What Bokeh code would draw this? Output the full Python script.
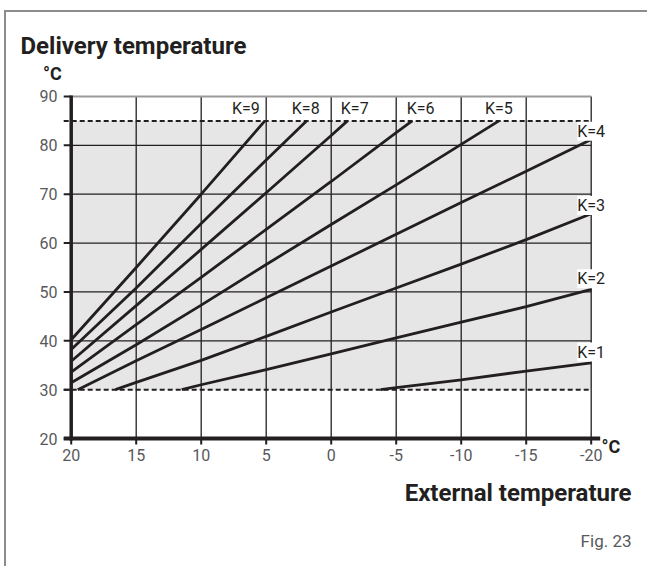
from bokeh.plotting import figure
from bokeh.models import Range1d, FixedTicker, Label
from bokeh.embed import file_html
from bokeh.resources import INLINE

# ---- data ----
ext_k1 = [-3.8, -5, -10, -15, -20]
flow_k1 = [30.0, 30.4, 32.0, 33.8, 35.5]
ext_k2 = [11.5, 10, 5, 0, -5, -10, -15, -20]
flow_k2 = [30.0, 31.0, 34.1, 37.3, 40.6, 43.8, 47.0, 50.5]
ext_k3 = [16.6, 15, 10, 5, 0, -5, -10, -15, -20]
flow_k3 = [30.0, 31.5, 36.0, 40.9, 45.9, 50.8, 55.7, 60.7, 66.0]
ext_k4 = [19.5, 15, 10, 5, 0, -5, -10, -15, -20]
flow_k4 = [30.0, 35.9, 42.3, 48.8, 55.3, 61.8, 68.3, 74.7, 81.2]
ext_k5 = [20, 15, 10, 5, 0, -5, -10, -12.9]
flow_k5 = [31.4, 39.2, 47.3, 55.6, 63.8, 71.9, 80.2, 85.0]
ext_k6 = [20, 15, 10, 5, 0, -5, -6.23]
flow_k6 = [33.6, 43.3, 53.0, 62.8, 72.6, 82.6, 85.0]
ext_k7 = [20, 15, 10, 5, 0, -1.25]
flow_k7 = [35.8, 47.2, 58.7, 70.3, 82.0, 85.0]
ext_k8 = [20, 15, 10, 5, 1.9]
flow_k8 = [38.2, 50.8, 64.0, 77.0, 85.0]
ext_k9 = [20, 15, 10, 5.1]
flow_k9 = [40.2, 55.0, 70.0, 85.0]

curves = [(ext_k1, flow_k1), (ext_k2, flow_k2), (ext_k3, flow_k3),
          (ext_k4, flow_k4), (ext_k5, flow_k5), (ext_k6, flow_k6),
          (ext_k7, flow_k7), (ext_k8, flow_k8), (ext_k9, flow_k9)]

min_flow = 30
max_flow = 85

x_ticks = [20, 15, 10, 5, 0, -5, -10, -15, -20]
x_tick_labels = ["20", "15", "10", "5", "0", "-5", "-10", "-15", "-20"]
y_ticks = [20, 30, 40, 50, 60, 70, 80, 90]
y_grid = [40, 50, 60, 70, 80]

top_labels = ["K=9", "K=8", "K=7", "K=6", "K=5"]
top_label_x = [6.57, 1.96, -1.81, -6.88, -12.9]
top_label_y = 87.5
right_labels = ["K=4", "K=3", "K=2", "K=1"]
right_label_x = -20.0
right_label_y = [82.9, 67.7, 52.7, 37.7]

title_text = "Delivery temperature"
x_title = "External temperature"
unit = "°C"
fig_text = "Fig. 23"

DARK = "#231f20"
GREY_TXT = "#58595b"
FONT = "Roboto"

# scale: 13 px per degree (x), 4.886 px per degree (y)
PX_X = 13.0
PX_Y = 4.886
X_START = 20 + (70.7 - 8) / PX_X
X_END = 20 - (647 - 70.7) / PX_X
Y_END = 20 + (438 - 14) / PX_Y
Y_START = 20 - (566 - 438) / PX_Y

p = figure(width=643, height=556,
           x_range=Range1d(X_START, X_END), y_range=Range1d(Y_START, Y_END),
           output_backend="svg", toolbar_location=None,
           min_border_left=2, min_border_right=2,
           min_border_top=2, min_border_bottom=2)
p.styles = {"margin-left": "4px", "margin-top": "10px",
            "border-top": "2px solid #8c8c8c", "border-left": "2px solid #8c8c8c"}
p.outline_line_color = None
p.xgrid.visible = False
p.ygrid.visible = False
p.background_fill_color = "white"
p.border_fill_color = "white"

# grey band between the flow limits
p.quad(left=[20], right=[-20], bottom=[min_flow], top=[max_flow],
       fill_color="#e6e6e6", line_color=None)

# grid lines
p.segment(x0=x_ticks, y0=[20] * len(x_ticks), x1=x_ticks, y1=[90] * len(x_ticks),
          line_color=DARK, line_width=1.3)
p.segment(x0=[20] * len(y_grid), y0=y_grid, x1=[-20] * len(y_grid), y1=y_grid,
          line_color=DARK, line_width=1.3)
p.segment(x0=[20], y0=[90], x1=[-20], y1=[90], line_color="#9a9a9a", line_width=2)

tick_dx = 7.5 / PX_X
tick_dy = 6 / PX_Y

# dashed limits
p.segment(x0=[20 + tick_dx] * 2, y0=[min_flow, max_flow], x1=[-20, -20],
          y1=[min_flow, max_flow], line_color=DARK, line_width=2, line_dash="5 3")

# axis lines and tick marks
p.segment(x0=[20 + tick_dx] * len(y_ticks), y0=y_ticks, x1=[20] * len(y_ticks), y1=y_ticks,
          line_color=DARK, line_width=2)
p.segment(x0=x_ticks, y0=[20] * len(x_ticks), x1=x_ticks, y1=[20 - tick_dy] * len(x_ticks),
          line_color=DARK, line_width=2)
p.segment(x0=[20], y0=[20 - 2 / PX_Y], x1=[20], y1=[90 + 1 / PX_Y],
          line_color=DARK, line_width=3.5)
p.segment(x0=[20 + tick_dx], y0=[20], x1=[-20 - 9 / PX_X], y1=[20],
          line_color=DARK, line_width=4)

for ex, fl in curves:
    p.line(ex, fl, line_color=DARK, line_width=2.8)

# axes: only the tick labels are shown
for ax in (p.xaxis[0], p.yaxis[0]):
    ax.axis_line_color = None
    ax.major_tick_line_color = None
    ax.minor_tick_line_color = None
    ax.major_tick_in = 0
    ax.major_tick_out = 0
    ax.major_label_text_font = FONT
    ax.major_label_text_font_size = "16px"
    ax.major_label_text_color = GREY_TXT
p.yaxis[0].ticker = FixedTicker(ticks=y_ticks)
p.yaxis[0].major_label_standoff = -49
p.xaxis[0].ticker = FixedTicker(ticks=x_ticks)
p.xaxis[0].major_label_overrides = {t: s for t, s in zip(x_ticks, x_tick_labels)}
p.xaxis[0].major_label_standoff = -118

# curve labels
for txt, lx in zip(top_labels, top_label_x):
    p.add_layout(Label(x=lx, y=top_label_y, text=txt, text_align="center",
                       text_baseline="middle", text_font=FONT,
                       text_font_size="16px", text_color=DARK))
for txt, ly in zip(right_labels, right_label_y):
    p.add_layout(Label(x=right_label_x, y=ly, text=txt, text_align="center",
                       text_baseline="middle", text_font=FONT,
                       text_font_size="16px", text_color=DARK,
                       background_fill_color="white"))

# titles and units
p.add_layout(Label(x=23.9, y=100.4, text=title_text, text_align="left",
                   text_baseline="middle", text_font=FONT, text_font_size="24px",
                   text_font_style="bold", text_color=DARK))
p.add_layout(Label(x=21.44, y=94.7, text=unit, text_align="center",
                   text_baseline="middle", text_font=FONT, text_font_size="18px",
                   text_font_style="bold", text_color=DARK))
p.add_layout(Label(x=-21.52, y=18.4, text=unit, text_align="center",
                   text_baseline="middle", text_font=FONT, text_font_size="18px",
                   text_font_style="bold", text_color=DARK))
p.add_layout(Label(x=-23.1, y=8.9, text=x_title, text_align="right",
                   text_baseline="middle", text_font=FONT, text_font_size="24px",
                   text_font_style="bold", text_color=DARK))
p.add_layout(Label(x=-23.1, y=-0.88, text=fig_text, text_align="right",
                   text_baseline="middle", text_font=FONT, text_font_size="17px",
                   text_color=GREY_TXT))

open("out.html", "w").write(file_html(p, INLINE))
